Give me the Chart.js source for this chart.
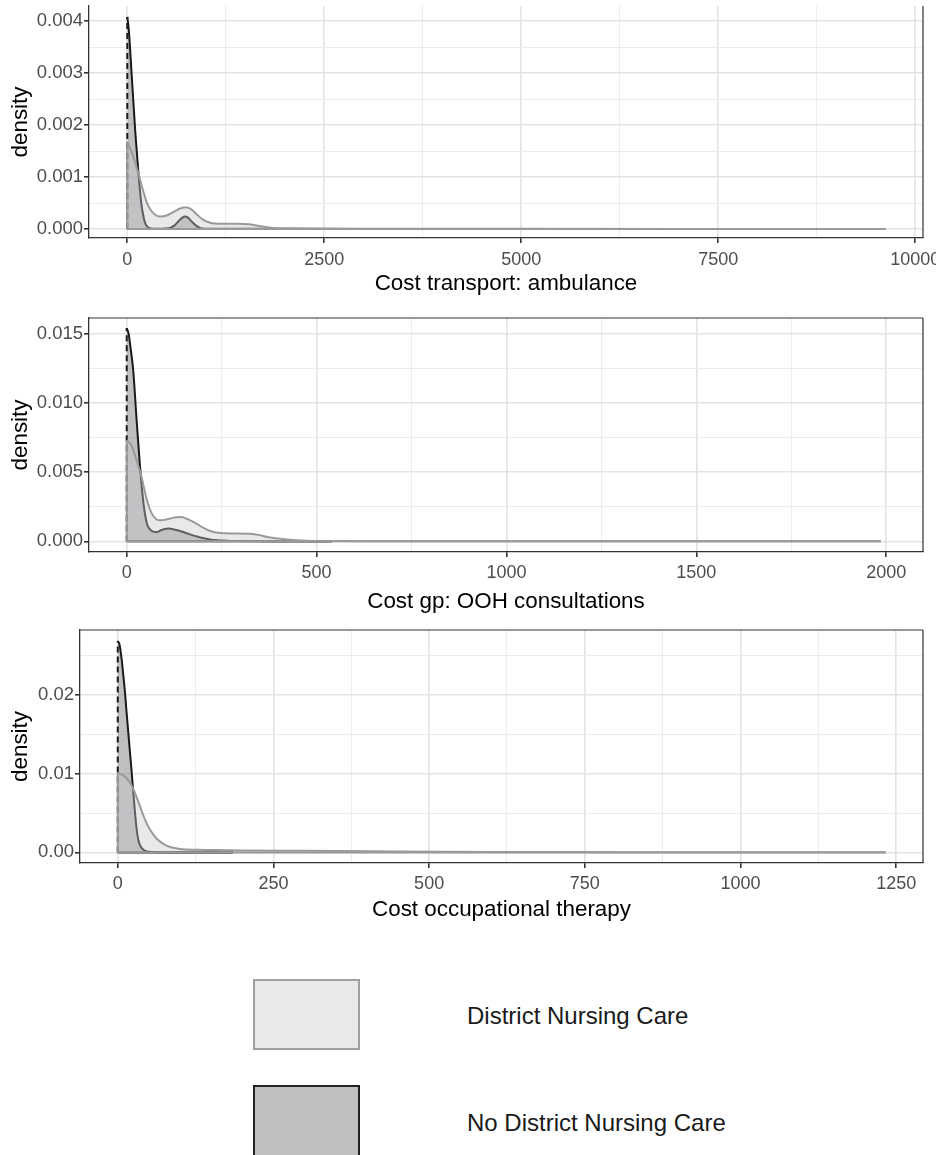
<!DOCTYPE html>
<html>
<head>
<meta charset="utf-8">
<script src="https://cdn.jsdelivr.net/npm/chart.js@4.4.1/dist/chart.umd.min.js"></script>
<style>
  body { margin: 0; background: #fff; }
  #page { position: relative; width: 936px; height: 1155px; overflow: hidden;
          font-family: "Liberation Sans", Arial, sans-serif; }
  #page canvas { position: absolute; left: 0; }
  .key { position: absolute; left: 253px; width: 107px; box-sizing: border-box; border: 2px solid; }
  .keyText { position: absolute; left: 467px; font-size: 24px; line-height: 30px; color: #1a1a1a; }
</style>
</head>
<body>
<div id="page">
  <canvas id="transport" width="936" height="300" style="top:0px"></canvas>
  <canvas id="gp" width="936" height="320" style="top:300px"></canvas>
  <canvas id="ot" width="936" height="320" style="top:620px"></canvas>

  <div class="key" style="top:979px;height:71px;background:#e9e9eb;border-color:#a0a0a0"></div>
  <div class="keyText" style="top:1001px">District Nursing Care</div>
  <div class="key" style="top:1085px;height:80px;background:#c0c0c2;border-color:#222"></div>
  <div class="keyText" style="top:1108px">No District Nursing Care</div>
</div>

<script>
// density curves (x = cost, y = density)
const transportDncX = [0, 50, 100, 150, 200, 250, 300, 350, 415, 500, 600, 680, 740, 800, 870, 950, 1050, 1200, 1400, 1550, 1700, 1850, 2100, 2600, 3500, 5000, 7000, 9624];
const transportDncY = [0.00168, 0.0015, 0.00128, 0.00102, 0.00074, 0.0005, 0.00036, 0.00028, 0.00024, 0.00026, 0.00034, 0.0004, 0.00042, 0.00039, 0.0003, 0.00019, 0.00012, 0.0001, 0.0001, 0.00009, 0.00005, 0.00002, 0.00001, 0.000006, 0.000004, 0.000003, 0.000002, 0.000001];
const transportNoDncX = [0, 15, 30, 50, 75, 100, 120, 140, 160, 180, 200, 225, 250, 300, 400, 540, 600, 650, 700, 730, 770, 820, 870, 920, 980, 1200, 2000, 3000, 3590];
const transportNoDncY = [0.00408, 0.0039, 0.0036, 0.0031, 0.0025, 0.0019, 0.0015, 0.0011, 0.00075, 0.00047, 0.00028, 0.00012, 0.00005, 0.00001, 0.000005, 0.00002, 0.00007, 0.00015, 0.00022, 0.00024, 0.00022, 0.00014, 0.00007, 0.00002, 0.000006, 0.000004, 0.000003, 0.000002, 0.000001];

const gpDncX = [0, 13, 26, 39, 53, 66, 78, 88, 100, 115, 130, 144, 160, 184, 200, 219, 246, 280, 325, 350, 369, 400, 421, 474, 550, 700, 1000, 1400, 1986];
const gpDncY = [0.0073, 0.0069, 0.00585, 0.00465, 0.003, 0.002, 0.0016, 0.00152, 0.00155, 0.00165, 0.00174, 0.00176, 0.0016, 0.00128, 0.001, 0.00075, 0.0006, 0.00057, 0.00055, 0.00045, 0.00031, 0.0002, 0.00014, 0.00005, 0.00002, 0.00001, 0.000005, 0.000003, 0.000001];
const gpNoDncX = [0, 5, 10, 17, 26, 35, 44, 53, 60, 68, 79, 90, 100, 110, 125, 149, 165, 184, 200, 219, 240, 263, 300, 400, 540];
const gpNoDncY = [0.0154, 0.015, 0.014, 0.0124, 0.0088, 0.0054, 0.0028, 0.0013, 0.0009, 0.00072, 0.00067, 0.0008, 0.00089, 0.00092, 0.00085, 0.00067, 0.00052, 0.00036, 0.00024, 0.00014, 0.00008, 0.00005, 0.00002, 0.000008, 0.000003];

const otDncX = [0, 9, 19.8, 27.8, 35.8, 43.9, 51.9, 62.6, 73, 84, 100, 127, 160, 200, 300, 450, 600, 800, 1000, 1233];
const otDncY = [0.0101, 0.0098, 0.0089, 0.00755, 0.00585, 0.00415, 0.00288, 0.00174, 0.0011, 0.00068, 0.00043, 0.00034, 0.0003, 0.00025, 0.0002, 0.00012, 0.00006, 0.00003, 0.00001, 0.000003];
const otNoDncX = [0, 3, 6.4, 9, 11.7, 14, 17, 20, 22.5, 25, 27.8, 30, 33, 36, 38.5, 42, 46.6, 55, 80, 120, 185];
const otNoDncY = [0.0269, 0.0264, 0.0245, 0.0225, 0.0203, 0.018, 0.0152, 0.0124, 0.0101, 0.0076, 0.005, 0.0032, 0.0016, 0.0009, 0.00055, 0.0003, 0.00013, 0.00005, 0.00002, 0.00001, 0.000005];

// axis ticks
const transportXMajor = [0, 2500, 5000, 7500, 10000];
const transportXMinor = [1250, 3750, 6250, 8750];
const transportYMajor = [0, 0.001, 0.002, 0.003, 0.004];
const transportYMinor = [0.0005, 0.0015, 0.0025, 0.0035];
const transportYLabels = ["0.000", "0.001", "0.002", "0.003", "0.004"];

const gpXMajor = [0, 500, 1000, 1500, 2000];
const gpXMinor = [250, 750, 1250, 1750];
const gpYMajor = [0, 0.005, 0.01, 0.015];
const gpYMinor = [0.0025, 0.0075, 0.0125];
const gpYLabels = ["0.000", "0.005", "0.010", "0.015"];

const otXMajor = [0, 250, 500, 750, 1000, 1250];
const otXMinor = [125, 375, 625, 875, 1125];
const otYMajor = [0, 0.01, 0.02];
const otYMinor = [0.005, 0.015, 0.025];
const otYLabels = ["0.00", "0.01", "0.02"];

Chart.defaults.font.family = '"Liberation Sans", Arial, sans-serif';

const DNC_LINE = "#9a9a9a", DNC_FILL = "rgba(200,200,204,0.4)";
const NODNC_LINE = "#1a1a1a", NODNC_FILL = "rgba(128,128,132,0.5)";

// ggplot-like panel border on top / right
const panelBorder = {
  id: "panelBorder",
  afterDatasetsDraw(chart, args, opts) {
    const { ctx, chartArea: a } = chart;
    ctx.save();
    ctx.strokeStyle = "#333";
    ctx.lineWidth = 1.2;
    ctx.beginPath();
    if (opts.top) { ctx.moveTo(a.left, a.top); ctx.lineTo(a.right, a.top); }
    ctx.moveTo(a.right, a.top); ctx.lineTo(a.right, a.bottom);
    ctx.stroke();
    ctx.restore();
  }
};

function curveSets(xs, ys, line, fill, dashed) {
  const pts = xs.map((x, i) => ({ x: x, y: ys[i] }));
  const end = xs[xs.length - 1];
  return [
    { data: [{ x: 0, y: 0 }, { x: 0, y: ys[0] }], borderColor: line, borderWidth: 2,
      borderDash: dashed ? [6, 4] : [], pointRadius: 0, fill: false },
    { data: [{ x: 0, y: 0 }, { x: end, y: 0 }], borderColor: line, borderWidth: 2, pointRadius: 0, fill: false },
    { data: pts, borderColor: line, backgroundColor: fill, fill: "origin", borderWidth: 2,
      pointRadius: 0, cubicInterpolationMode: "monotone" }
  ];
}

function axisGrid(major) {
  const isMajor = c => c.tick && major.includes(c.tick.value);
  return {
    color: c => isMajor(c) ? "#e3e3e5" : "#ececee",
    lineWidth: c => isMajor(c) ? 1.6 : 1,
    tickColor: c => isMajor(c) ? "#333" : "rgba(0,0,0,0)",
    tickLength: 5,
    drawTicks: true
  };
}

function makePanel(id, p) {
  new Chart(id, {
    type: "line",
    data: {
      datasets: [
        ...curveSets(p.dncX, p.dncY, DNC_LINE, DNC_FILL, false),
        ...curveSets(p.noX, p.noY, NODNC_LINE, NODNC_FILL, true)
      ]
    },
    options: {
      responsive: false,
      animation: false,
      events: [],
      devicePixelRatio: 1,
      layout: { padding: { top: p.padTop, right: 13, left: 0, bottom: 0 } },
      plugins: { legend: { display: false }, tooltip: { enabled: false }, panelBorder: { top: p.topBorder } },
      scales: {
        x: {
          type: "linear", min: p.xMin, max: p.xMax,
          afterBuildTicks: ax => { ax.ticks = p.xMajor.concat(p.xMinor).sort((a, b) => a - b).map(v => ({ value: v })); },
          afterFit: ax => { ax.height = p.xAxisH; ax.paddingLeft = 0; ax.paddingRight = 0; },
          grid: axisGrid(p.xMajor),
          border: { display: true, color: "#333", width: 1.3 },
          ticks: { callback: v => p.xMajor.includes(v) ? String(v) : "", font: { size: 18 }, color: "#4d4d4d",
                   padding: p.xTickPad, maxRotation: 0, autoSkip: false },
          title: { display: true, text: p.title, font: { size: 22.4 }, color: "#000", padding: { top: 0, bottom: p.titlePad } }
        },
        y: {
          type: "linear", min: p.yMin, max: p.yMax,
          afterBuildTicks: ax => { ax.ticks = p.yMajor.concat(p.yMinor).sort((a, b) => a - b).map(v => ({ value: v })); },
          afterFit: ax => { ax.width = p.yAxisW; ax.paddingTop = 0; ax.paddingBottom = 0; },
          grid: axisGrid(p.yMajor),
          border: { display: true, color: "#333", width: 1.3 },
          ticks: { callback: v => { const i = p.yMajor.indexOf(v); return i >= 0 ? p.yLabels[i] : ""; },
                   font: { size: 18.5 }, color: "#4d4d4d", padding: 1, autoSkip: false },
          title: { display: true, text: "density", font: { size: 22.4 }, color: "#000", padding: { top: 7, bottom: 0 } }
        }
      }
    },
    plugins: [panelBorder]
  });
}

makePanel("transport", {
  dncX: transportDncX, dncY: transportDncY, noX: transportNoDncX, noY: transportNoDncY,
  xMajor: transportXMajor, xMinor: transportXMinor, yMajor: transportYMajor, yMinor: transportYMinor, yLabels: transportYLabels,
  xMin: -486, xMax: 10098, yMin: -0.000173, yMax: 0.00429,
  title: "Cost transport: ambulance", padTop: 6, xAxisH: 62, yAxisW: 89, xTickPad: 6, titlePad: 3, topBorder: false
});
makePanel("gp", {
  dncX: gpDncX, dncY: gpDncY, noX: gpNoDncX, noY: gpNoDncY,
  xMajor: gpXMajor, xMinor: gpXMinor, yMajor: gpYMajor, yMinor: gpYMinor, yLabels: gpYLabels,
  xMin: -99.3, xMax: 2097, yMin: -0.00077, yMax: 0.01613,
  title: "Cost gp: OOH consultations", padTop: 18, xAxisH: 68, yAxisW: 89, xTickPad: 5, titlePad: 5, topBorder: true
});
makePanel("ot", {
  dncX: otDncX, dncY: otDncY, noX: otNoDncX, noY: otNoDncY,
  xMajor: otXMajor, xMinor: otXMinor, yMajor: otYMajor, yMinor: otYMinor, yLabels: otYLabels,
  xMin: -60.6, xMax: 1293, yMin: -0.00135, yMax: 0.0283,
  title: "Cost occupational therapy", padTop: 10, xAxisH: 77, yAxisW: 80, xTickPad: 5, titlePad: 17, topBorder: true
});
</script>
</body>
</html>
